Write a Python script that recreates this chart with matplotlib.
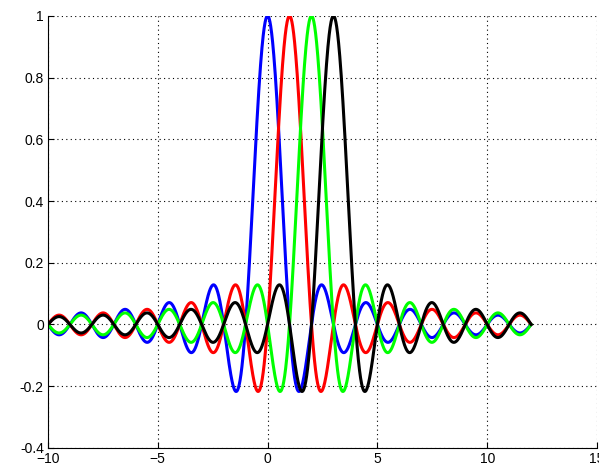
import numpy as np
import matplotlib as mpl
import matplotlib.pyplot as plt

mpl.rcParams['font.family'] = ['Liberation Sans', 'DejaVu Sans']

# shifted sinc pulses
shifts = [0, 1, 2, 3]
colors = ['#0000ff', '#ff0000', '#00ff00', '#000000']
x_start, x_end = -10, 12
xticks = [-10, -5, 0, 5, 10, 15]
yticks = [-0.4, -0.2, 0, 0.2, 0.4, 0.6, 0.8, 1]

x = np.linspace(x_start, x_end, 2001)

fig = plt.figure(figsize=(5.99, 4.68), dpi=100)
ax = fig.add_axes([0.080, 0.043, 0.9167, 0.923])

for s, c in zip(shifts, colors):
    ax.plot(x, np.sinc(x - s), '-', color=c, lw=2.2)

ax.set_xlim(-10, 15)
ax.set_ylim(-0.4, 1)
ax.set_xticks(xticks)
ax.set_yticks(yticks)
ax.set_yticklabels(['%g' % v for v in yticks])
ax.grid(True, color='black', linestyle=(0, (1, 3)), linewidth=0.8)
ax.spines['top'].set_visible(False)
ax.spines['right'].set_visible(False)
ax.tick_params(direction='in', length=4, labelsize=10, pad=3)

fig.savefig('out.png', dpi=100)
